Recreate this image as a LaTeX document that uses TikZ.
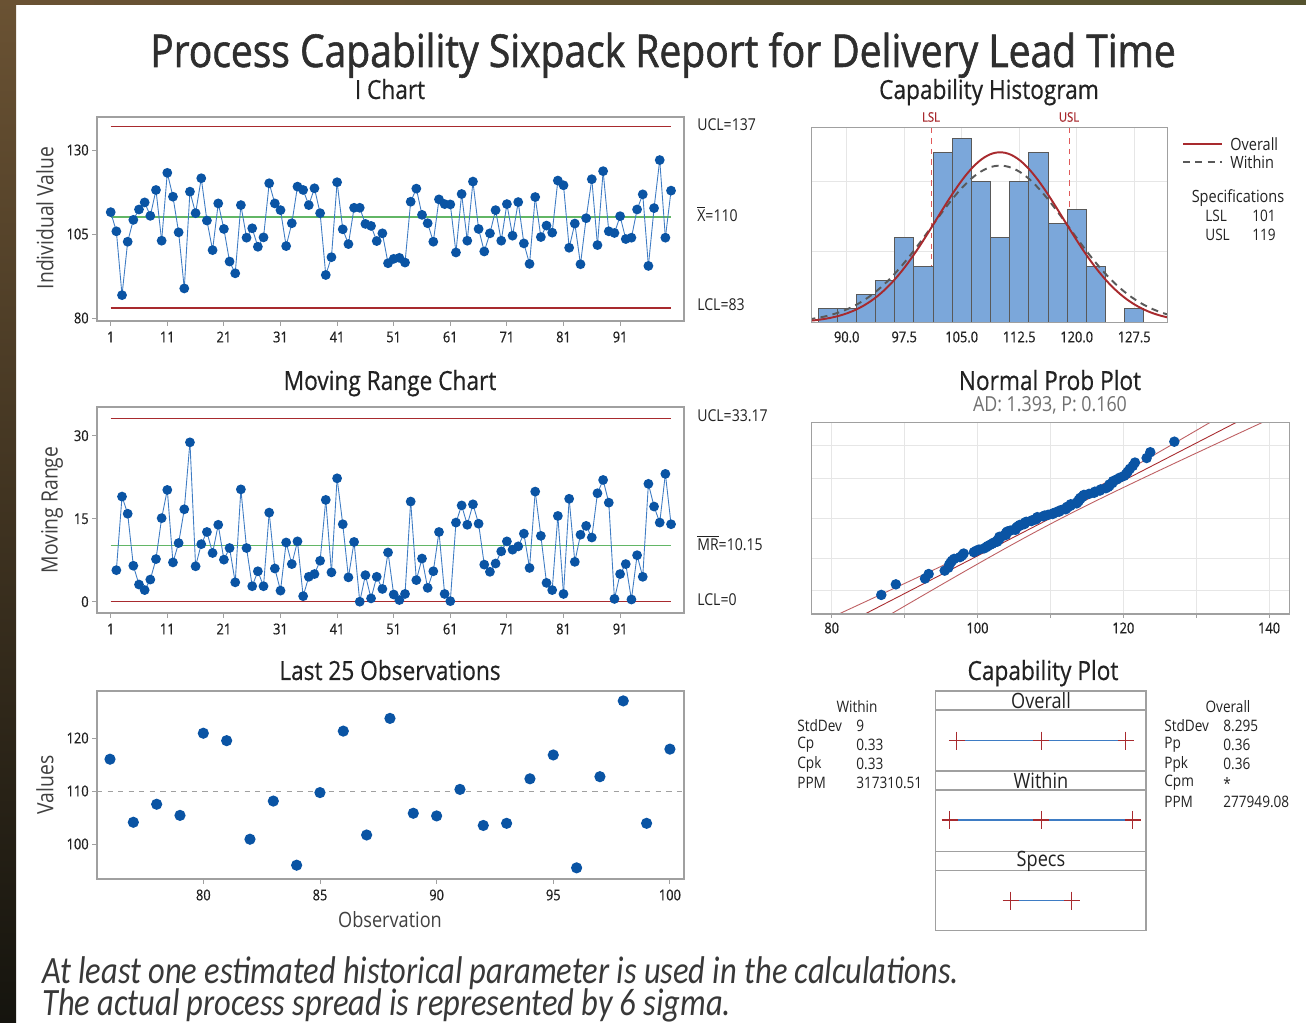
\documentclass[tikz,border=0pt]{standalone}
\usepackage{fontspec}
\setmainfont{Open Sans}[FakeStretch=0.86]
\newfontfamily\notefont{Carlito}[FakeStretch=0.84]
\usepackage{xcolor}
\usepackage{tikz}
\usetikzlibrary{positioning}
\definecolor{dotblue}{HTML}{0A54A4}
\definecolor{joinblue}{HTML}{3E7CC4}
\definecolor{limred}{HTML}{A82A2E}
\definecolor{specred}{HTML}{E05A5A}
\definecolor{ctrgreen}{HTML}{62B666}
\definecolor{barblue}{HTML}{7BA7DA}
\definecolor{framegray}{HTML}{A0A0A0}
\definecolor{gridgray}{HTML}{E6E6E6}
\definecolor{inkgray}{HTML}{222222}
\definecolor{subgray}{HTML}{707070}
\definecolor{edgebrown}{HTML}{6A5233}
\definecolor{edgedark}{HTML}{15140E}
\definecolor{edgeolive}{HTML}{55532F}

% lead times in time order
\def\obsvals{111.5,105.8,86.8,102.7,109.2,112.3,114.4,110.4,118.1,103.0,
 123.2,116.1,105.5,88.8,117.6,111.2,121.6,109.0,100.2,114.1,
 106.5,96.8,93.3,113.6,103.9,106.7,101.2,104.0,120.1,114.1,
 112.1,101.4,108.2,119.1,118.1,113.6,118.6,111.2,92.8,98.1,
 120.4,106.4,102.0,112.8,112.8,108.0,107.4,102.9,105.2,96.3,
 97.6,97.9,96.5,114.6,118.5,110.7,108.2,102.7,115.3,113.9,
 113.8,99.5,116.9,103.0,120.6,106.5,99.8,105.2,112.1,103.0,
 113.9,104.5,114.5,102.2,96.1,116.0,104.1,107.5,105.4,120.9,
 119.5,100.9,108.1,96.0,109.7,121.3,101.7,123.7,105.8,105.3,
 110.3,103.5,103.9,112.3,116.8,95.5,112.7,127.0,103.9,117.9}
% same values sorted, for the probability plot
\def\sortedvals{86.8,88.8,92.8,93.3,95.5,96.0,96.1,96.3,96.5,96.8,
 97.6,97.9,98.1,99.5,99.8,100.2,100.9,101.2,101.4,101.7,
 102.0,102.2,102.7,102.7,102.9,103.0,103.0,103.0,103.5,103.9,
 103.9,103.9,104.0,104.1,104.5,105.2,105.2,105.3,105.4,105.5,
 105.8,105.8,106.4,106.5,106.5,106.7,107.4,107.5,108.0,108.1,
 108.2,108.2,109.0,109.2,109.7,110.3,110.4,110.7,111.2,111.2,
 111.5,112.1,112.1,112.3,112.3,112.7,112.8,112.8,113.6,113.6,
 113.8,113.9,113.9,114.1,114.1,114.4,114.5,114.6,115.3,116.0,
 116.1,116.8,116.9,117.6,117.9,118.1,118.1,118.5,118.6,119.1,
 119.5,120.1,120.4,120.6,120.9,121.3,121.6,123.2,123.7,127.0}
% histogram counts, bins of 2.5 starting at 86.25
\def\bincounts{1,1,2,3,6,4,12,13,10,6,10,12,7,8,4,0,1}

\begin{document}
\begin{tikzpicture}[x=0.02cm, y=-0.02cm,
  every node/.style={inner sep=0pt, text=inkgray},
  ticklab/.style={font=\fontsize{8.5}{10}\selectfont\addfontfeatures{FakeBold=0.6}},
  limlab/.style={anchor=west, font=\fontsize{9.3}{11}\selectfont},
  paneltitle/.style={anchor=base, font=\fontsize{15}{18}\selectfont\addfontfeatures{FakeBold=0.5}},
  axtitle/.style={rotate=90, text=black!75, font=\fontsize{12.8}{15}\selectfont},
  stat/.style={anchor=west, font=\fontsize{9}{11}\selectfont},
  cplab/.style={font=\fontsize{12}{14}\selectfont},
  plotframe/.style={draw=framegray, line width=0.6pt},
  tickmark/.style={draw=framegray, line width=0.5pt},
  gridline/.style={draw=gridgray, line width=0.5pt},
  limline/.style={draw=limred, line width=0.7pt},
  ctrline/.style={draw=ctrgreen, line width=0.8pt},
  joinline/.style={draw=joinblue, line width=0.5pt},
  obsdot/.style={fill=dotblue},
  histbar/.style={fill=barblue, draw=black!65, line width=0.5pt},
  speclim/.style={draw=specred, dashed, line width=0.5pt},
  overallfit/.style={draw=limred, line width=1.1pt},
  withinfit/.style={draw=black!65, line width=1.1pt, dash pattern=on 4pt off 3pt},
  fitline/.style={draw=limred, line width=0.5pt},
  bandline/.style={draw=limred!75, line width=0.5pt},
  spanline/.style={draw=joinblue, line width=0.7pt},
  crossmark/.style={draw=limred, line width=0.6pt}
]
\useasboundingbox (0,0) rectangle (1306,1023);
\fill[white] (0,0) rectangle (1306,1023);
\shade[top color=edgebrown, bottom color=edgedark] (0,0) rectangle (16,1023);
\shade[left color=edgebrown, right color=edgeolive] (0,0) rectangle (1306,5);

\node[anchor=base, font=\fontsize{25.8}{30}\selectfont\addfontfeatures{FakeBold=1.2}, text=black!82] (title) at (663,67)
  {Process Capability Sixpack Report for Delivery Lead Time};

% I chart
\node[paneltitle] (ichT) at (390,99) {I Chart};
\node[axtitle] (ichY) at (45,218) {Individual Value};
\draw[plotframe] (97,117) rectangle (684,321);
\foreach \v in {80,105,130} {
  \draw[tickmark] (92,{318-(\v-80)*3.36}) -- (97,{318-(\v-80)*3.36});
  \node[ticklab, anchor=east] at (89,{318-(\v-80)*3.36}) {\v};
}
\foreach \k in {1,11,...,91} {
  \draw[tickmark] ({110.7+(\k-1)*5.66},321) -- ++(0,5);
  \node[ticklab] at ({110.7+(\k-1)*5.66},337) {\k};
}
\draw[limline] (110.7,126.5) -- (671,126.5);
\draw[ctrline] (110.7,217.2) -- (671,217.2);
\draw[limline] (110.7,308.1) -- (671,308.1);
\foreach \v [count=\i] in \obsvals
  \coordinate (i\i) at ({110.7+(\i-1)*5.66},{318-(\v-80)*3.36});
\foreach \i [count=\j] in {2,...,100}
  \draw[joinline] (i\j) -- (i\i);
\foreach \i in {1,...,100}
  \fill[obsdot] (i\i) circle[radius=2.8pt];
\node[limlab] (iucl) at (697,125) {UCL=137};
\node[limlab] (ixbar) at (697,214) {$\overline{\mbox{X}}$=110};
\node[limlab] (ilcl) at (697,305) {LCL=83};

% Moving range chart
\node[paneltitle] (mrT) at (390,390) {Moving Range Chart};
\node[axtitle] (mrY) at (52,510) {Moving Range};
\draw[plotframe] (97,407) rectangle (684,613);
\foreach \v in {0,15,30} {
  \draw[tickmark] (92,{601.7-\v*5.533}) -- (97,{601.7-\v*5.533});
  \node[ticklab, anchor=east] at (89,{601.7-\v*5.533}) {\v};
}
\foreach \k in {1,11,...,91} {
  \draw[tickmark] ({110.7+(\k-1)*5.66},613) -- ++(0,5);
  \node[ticklab] at ({110.7+(\k-1)*5.66},629) {\k};
}
\draw[limline] (110.7,418.2) -- (671,418.2);
\draw[ctrline] (110.7,545.5) -- (671,545.5);
\draw[limline] (110.7,601.7) -- (671,601.7);
\foreach \v [count=\i, remember=\v as \pv (initially 0)] in \obsvals {
  \ifnum\i>1
    \pgfmathsetmacro\mr{abs(\v-\pv)}
    \coordinate (m\i) at ({110.7+(\i-1)*5.66},{601.7-\mr*5.533});
  \fi
}
\foreach \i [count=\j from 2] in {3,...,100}
  \draw[joinline] (m\j) -- (m\i);
\foreach \i in {2,...,100}
  \fill[obsdot] (m\i) circle[radius=2.8pt];
\node[limlab] (mucl) at (697,416) {UCL=33.17};
\node[limlab] (mbar) at (697,543) {$\overline{\mbox{MR}}$=10.15};
\node[limlab] (mlcl) at (697,600) {LCL=0};

% Last 25 observations
\node[paneltitle] (l25T) at (390,680) {Last 25 Observations};
\node[axtitle] (l25Y) at (45,785) {Values};
\node[font=\fontsize{12}{14}\selectfont, text=black!75] (l25X) at (390,920) {Observation};
\draw[plotframe] (97,691) rectangle (684,879);
\draw[framegray, dashed, line width=0.5pt] (97,791) -- (684,791);
\foreach \v in {100,110,120} {
  \draw[tickmark] (92,{791-(\v-110)*5.3}) -- (97,{791-(\v-110)*5.3});
  \node[ticklab, anchor=east] at (89,{791-(\v-110)*5.3}) {\v};
}
\foreach \k in {80,85,...,100} {
  \draw[tickmark] ({110+(\k-76)*23.33},879) -- ++(0,5);
  \node[ticklab] at ({110+(\k-76)*23.33},895) {\k};
}
\foreach \v [count=\i] in \obsvals {
  \ifnum\i>75
    \coordinate (l\i) at ({110+(\i-76)*23.33},{791-(\v-110)*5.3});
    \fill[obsdot] (l\i) circle[radius=3.2pt];
  \fi
}

% Capability histogram
\node[paneltitle] (histT) at (989,99) {Capability Histogram};
\begin{scope}
  \clip (811.7,127.7) rectangle (1167.7,322.7);
  \foreach \k in {0,...,5}
    \draw[gridline] ({846.7+\k*57.5},127.7) -- ++(0,195);
  \foreach \c in {5,10}
    \draw[gridline] (811.7,{322.7-\c*14.17}) -- (1167.7,{322.7-\c*14.17});
  \draw[speclim] (931,127.7) -- (931,322.7);
  \draw[speclim] (1069,127.7) -- (1069,322.7);
  \foreach \c [count=\k] in \bincounts {
    \ifnum\c>0
      \filldraw[histbar] ({846.7+(83.75+\k*2.5-90)*7.667},322.7) rectangle ++(19.17,{-\c*14.17});
    \fi
  }
  \draw[withinfit] plot[domain=85:132, samples=120]
    ({846.7+(\x-90)*7.667},{322.7-14.17*11.082*exp(((\x-110)^2)/(-162))});
  \draw[overallfit] plot[domain=85:132, samples=120]
    ({846.7+(\x-90)*7.667},{322.7-14.17*12.024*exp(((\x-110)^2)/(-137.61))});
\end{scope}
\draw[plotframe] (811.7,127.7) rectangle (1167.7,322.7);
\foreach \t [count=\k from 0] in {90.0,97.5,105.0,112.5,120.0,127.5}
  \node[ticklab] at ({846.7+\k*57.5},337) {\t};
\node[font=\fontsize{7.5}{9}\selectfont\addfontfeatures{FakeBold=0.6}, text=limred] (lslT) at (931,117) {LSL};
\node[font=\fontsize{7.5}{9}\selectfont\addfontfeatures{FakeBold=0.6}, text=limred] (uslT) at (1069,117) {USL};
% legend
\draw[overallfit] (1183,144) -- (1222,144);
\node[stat, font=\fontsize{9.6}{11}\selectfont] (lgO) at (1230,144) {Overall};
\draw[withinfit] (1183,162) -- (1222,162);
\node[stat, font=\fontsize{9.6}{11}\selectfont] (lgW) at (1230,162) {Within};
\node[stat, anchor=center, font=\fontsize{9.6}{11}\selectfont] (spH) at (1238,198) {Specifications};
\node[stat] (spL) at (1205,216) {LSL};
\node[stat] (spLv) at (1252,216) {101};
\node[stat] (spU) at (1205,235) {USL};
\node[stat] (spUv) at (1252,235) {119};

% Normal probability plot
\node[paneltitle] (npT) at (1050,390) {Normal Prob Plot};
\node[anchor=base, font=\fontsize{11.8}{14}\selectfont, text=subgray] (npS) at (1050,412) {AD: 1.393, P: 0.160};
\begin{scope}
  \clip (811.7,422.3) rectangle (1289.3,614);
  \foreach \k in {0,...,6}
    \draw[gridline] ({831.7+\k*72.9},422.3) -- ++(0,191.7);
  \foreach \z in {-2.3263,-1.2816,0,1.2816,2.3263}
    \draw[gridline] (811.7,{518.3-31.2*\z}) -- (1289.3,{518.3-31.2*\z});
  \draw[bandline] plot[domain=-3.4:3.4, samples=40]
    ({831.7+(30+8.295*\x-1.5*sqrt(1+(\x)^2/2))*7.29},{518.3-31.2*\x});
  \draw[bandline] plot[domain=-3.4:3.4, samples=40]
    ({831.7+(30+8.295*\x+1.5*sqrt(1+(\x)^2/2))*7.29},{518.3-31.2*\x});
  \draw[fitline] plot[domain=-3.4:3.4, samples=2]
    ({831.7+(30+8.295*\x)*7.29},{518.3-31.2*\x});
\end{scope}
\foreach \v [count=\i] in \sortedvals {
  \pgfmathsetmacro\pp{(\i-0.3)/100.4}
  \pgfmathsetmacro\pz{4.91*(exp(0.14*ln(\pp))-exp(0.14*ln(1-\pp)))}
  \coordinate (p\i) at ({831.7+(\v-80)*7.29},{518.3-31.2*\pz});
  \fill[obsdot] (p\i) circle[radius=3pt];
}
\draw[plotframe] (811.7,422.3) rectangle (1289.3,614);
\foreach \k in {0,...,6}
  \draw[tickmark] ({831.7+\k*72.9},614) -- ++(0,4);
\foreach \t [count=\k from 0] in {80,100,120,140}
  \node[ticklab] at ({831.7+\k*145.8},628) {\t};

% Capability plot
\node[paneltitle] (cpT) at (1043,680) {Capability Plot};
\draw[plotframe] (935.7,691) rectangle (1146,930.7);
\foreach \y in {710,771,790,851.7,870.7}
  \draw[plotframe] (935.7,\y) -- (1146,\y);
\node[cplab] (cpO) at (1041,701) {Overall};
\node[cplab] (cpW) at (1041,781) {Within};
\node[cplab] (cpS) at (1041,861) {Specs};
\coordinate (ovL) at (956.8,740.7);
\coordinate (ovM) at (1041.2,740.7);
\coordinate (ovR) at (1125.6,740.7);
\coordinate (wiL) at (949.7,820);
\coordinate (wiM) at (1041.2,820);
\coordinate (wiR) at (1132.7,820);
\coordinate (spLo) at (1010.7,900.7);
\coordinate (spHi) at (1071.7,900.7);
\draw[spanline] (ovL) -- (ovR);
\draw[spanline] (wiL) -- (wiR);
\draw[spanline] (spLo) -- (spHi);
\foreach \c in {ovL,ovM,ovR,wiL,wiM,wiR,spLo,spHi}
  \draw[crossmark] (\c) ++(-8,0) -- ++(16,0) (\c) ++(0,-9) -- ++(0,18);
% statistics beside the plot
\node[stat, anchor=center] (wiH) at (857,707) {Within};
\foreach \lab/\val [count=\r from 0] in {StdDev/9,Cp/0.33,Cpk/0.33,PPM/317310.51} {
  \node[stat] at (797,{726+\r*19}) {\lab};
  \node[stat] at (856,{726+\r*19}) {\val};
}
\node[stat, anchor=center] (ovH) at (1228,707) {Overall};
\foreach \lab/\val [count=\r from 0] in {StdDev/8.295,Pp/0.36,Ppk/0.36,Cpm/*,PPM/277949.08} {
  \node[stat] at (1164,{726+\r*19}) {\lab};
  \node[stat] at (1223,{726+\r*19}) {\val};
}

% footnote, two lines in one node
\node[anchor=base west, align=left, font=\notefont\itshape\fontsize{22}{18.2}\selectfont, text=black!78] (note) at (42,1015)
  {At least one estimated historical parameter is used in the calculations.\\[-1.7pt]
   The actual process spread is represented by 6 sigma.};
\end{tikzpicture}
\end{document}
